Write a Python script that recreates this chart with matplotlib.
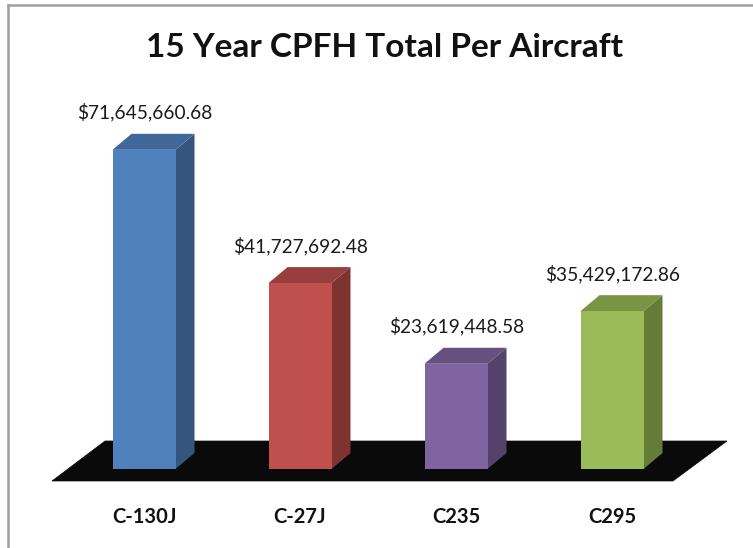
import matplotlib
matplotlib.use("Agg")
import matplotlib.pyplot as plt
from matplotlib.patches import Polygon
import numpy as np

categories = ["C-130J", "C-27J", "C235", "C295"]
values = [71645660.68, 41727692.48, 23619448.58, 35429172.86]
labels = ["$71,645,660.68", "$41,727,692.48", "$23,619,448.58", "$35,429,172.86"]
front_colors = ["#4F81BD", "#C0504D", "#8064A2", "#9BBB59"]
top_colors = ["#3F679A", "#973F3D", "#65507F", "#7A9446"]
side_colors = ["#34557E", "#7E3331", "#54426B", "#657C39"]
title = "15 Year CPFH Total Per Aircraft"

FONT = ["Lato", "DejaVu Sans"]

W, H = 753, 548
fig = plt.figure(figsize=(W / 100, H / 100), dpi=100)
ax = fig.add_axes([0, 0, 1, 1])
# pixel geometry -> data scales
px_per_cat = 156.0
px_per_unit = 4.455e-6  # pixels per dollar
x0_px, y0_px = 144.0, 469.0
ax.set_xlim(-x0_px / px_per_cat, (W - x0_px) / px_per_cat)
ax.set_ylim(-(H - y0_px) / px_per_unit, y0_px / px_per_unit)
ax.axis("off")

def px2x(p):
    return p / px_per_cat

def px2y(p):
    return p / px_per_unit

# floor
fl = [(px2x(52 - x0_px), px2y(-12)), (px2x(673 - x0_px), px2y(-12)),
      (px2x(727 - x0_px), px2y(28)), (px2x(105 - x0_px), px2y(28))]
ax.add_patch(Polygon(fl, closed=True, facecolor="#0A0A0A", edgecolor="#0A0A0A", lw=0.5))

half_w = px2x(31.5)
dx = px2x(19)
dy = px2y(16)
for i, v in enumerate(values):
    xl, xr = i - half_w, i + half_w
    front = [(xl, 0), (xr, 0), (xr, v), (xl, v)]
    side = [(xr, 0), (xr + dx, dy), (xr + dx, v + dy), (xr, v)]
    top = [(xl, v), (xr, v), (xr + dx, v + dy), (xl + dx, v + dy)]
    ax.add_patch(Polygon(side, closed=True, facecolor=side_colors[i], edgecolor="none"))
    ax.add_patch(Polygon(top, closed=True, facecolor=top_colors[i], edgecolor="none"))
    ax.add_patch(Polygon(front, closed=True, facecolor=front_colors[i], edgecolor="none"))
    ax.text(i + px2x(1), v + dy + px2y(15), labels[i], ha="center", va="baseline",
            fontsize=13.8, family=FONT, color="#1A1A1A")
    ax.text(i, px2y(-54), categories[i], ha="center", va="baseline",
            fontsize=14.5, fontweight="bold", family=FONT, color="#111111")

fig.text(385 / W, 1 - 57 / H, title, ha="center", va="baseline",
         fontsize=24, fontweight="bold", family=FONT, color="#111111")

# chart border (top and left visible)
fig.add_artist(plt.Line2D([8 / W, 1.0], [1 - 5 / H, 1 - 5 / H], color="#A0A0A0", lw=1.8))
fig.add_artist(plt.Line2D([8 / W, 8 / W], [0, 1 - 5 / H], color="#A0A0A0", lw=1.8))

fig.savefig("out.png", dpi=100)
